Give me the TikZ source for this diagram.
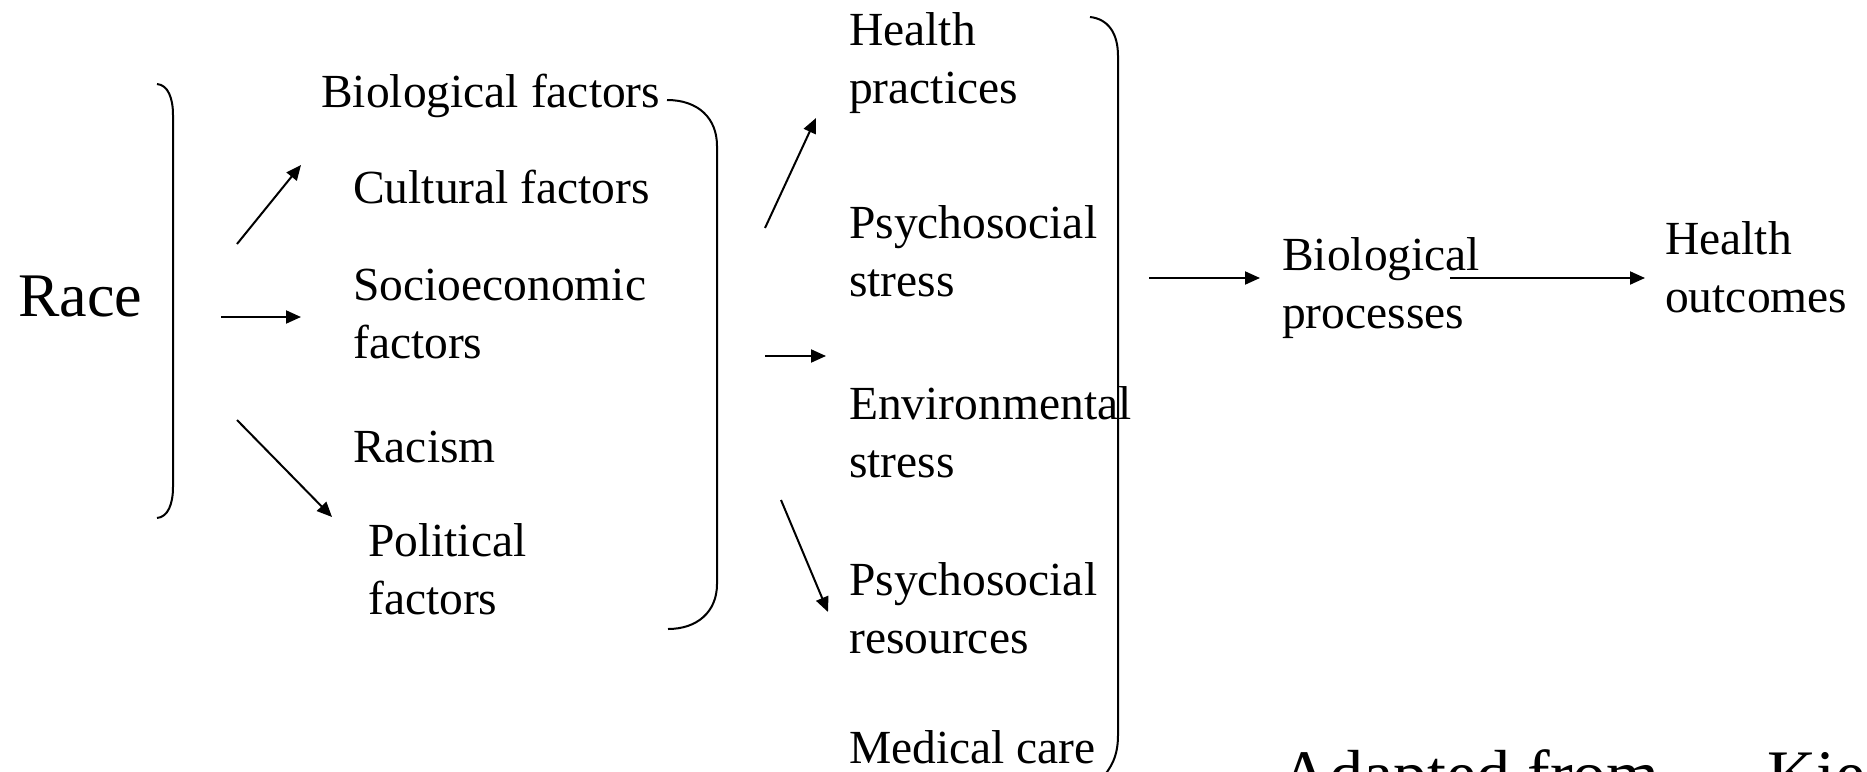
\documentclass[tikz,border=0pt]{standalone}
\usepackage{fontspec}
\setmainfont{Liberation Serif}
\usetikzlibrary{arrows.meta}
\begin{document}
\begin{tikzpicture}[x=1pt,y=-1pt,
  txt/.style={font=\fontsize{47.5}{58}\selectfont, inner sep=0pt, align=left},
  arr/.style={line width=2pt, -{Triangle[length=15pt,width=13pt]}},
  brk/.style={line width=2pt}]
\clip (0,0) rectangle (1867,771);
\fill[white] (0,0) rectangle (1867,771);

% texts
\node[txt, anchor=base west, font=\fontsize{62}{70}\selectfont] (race) at (18,316) {Race};
\node[txt, anchor=base west] (bio) at (321,107) {Biological factors};
\node[txt, anchor=base west] (cult) at (353,203) {Cultural factors};
\node[txt, anchor=north west] (socio) at (353,269) {Socioeconomic\\factors};
\node[txt, anchor=base west] (racism) at (353,462) {Racism};
\node[txt, anchor=north west] (polit) at (368,523) {Political\\factors};
\node[txt, anchor=north west] (hp) at (849,12) {Health\\practices};
\node[txt, anchor=north west] (pss) at (849,205) {Psychosocial\\stress};
\node[txt, anchor=north west] (env) at (849,386) {Environmental\\stress};
\node[txt, anchor=north west] (psr) at (849,562) {Psychosocial\\resources};
\node[txt, anchor=base west] (med) at (849,763) {Medical care};
\node[txt, anchor=north west] (bp) at (1282,237) {Biological\\processes};
\node[txt, anchor=north west] (ho) at (1665,221) {Health\\outcomes};
\node[txt, anchor=base west, font=\fontsize{68}{76}\selectfont] (src) at (1280,797) {Adapted from\hspace{108pt}Kiecolt};

% brackets
\draw[brk] (157,84) .. controls (168,85) and (173,98) .. (173,115) -- (173,487) .. controls (173,504) and (168,517) .. (157,518);
\coordinate (b2s) at (667,100);
\draw[brk] (b2s) .. controls (698,100) and (717,118) .. (717,146) -- (717,584) .. controls (717,612) and (697,629) .. (668,629);
\draw[brk] (1090,17) .. controls (1108,19) and (1118,33) .. (1118,56) -- (1118,735) .. controls (1118,755) and (1112,768) .. (1100,780);

% arrow end points
\coordinate (a1s) at (237,244); \coordinate (a1e) at (301,165);
\coordinate (a2s) at (221,317); \coordinate (a2e) at (301,317);
\coordinate (a3s) at (237,420); \coordinate (a3e) at (332,517);
\coordinate (b1s) at (765,228); \coordinate (b1e) at (816,118);
\coordinate (b2as) at (765,356); \coordinate (b2ae) at (826,356);
\coordinate (b3s) at (781,500); \coordinate (b3e) at (828,612);
\coordinate (c1s) at (1149,278); \coordinate (c1e) at (1260,278);
\coordinate (c2s) at (1450,278); \coordinate (c2e) at (1645,278);

\draw[arr] (a1s) -- (a1e);
\draw[arr] (a2s) -- (a2e);
\draw[arr] (a3s) -- (a3e);
\draw[arr] (b1s) -- (b1e);
\draw[arr] (b2as) -- (b2ae);
\draw[arr] (b3s) -- (b3e);
\draw[arr] (c1s) -- (c1e);
\draw[arr] (c2s) -- (c2e);
\end{tikzpicture}
\end{document}
